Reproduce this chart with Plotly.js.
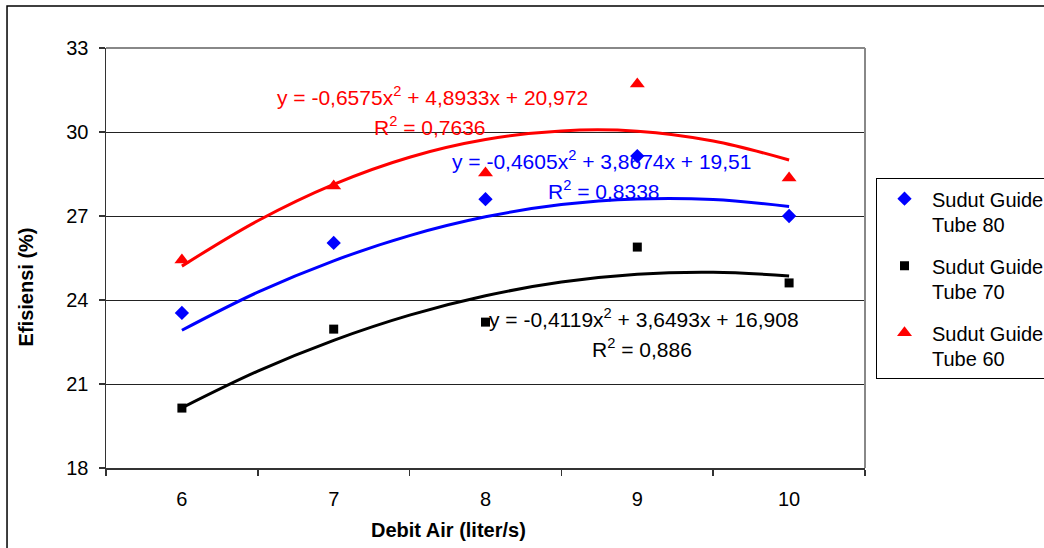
<!DOCTYPE html>
<html><head><meta charset="utf-8">
<script src="https://cdn.plot.ly/plotly-3.0.1.min.js"></script>
<style>html,body{margin:0;padding:0;background:#fff}#chart{width:1044px;height:548px}</style>
</head><body><div id="chart"></div>
<script>
// Measured points
const debitAir = [6, 7, 8, 9, 10];
const tube80 = [23.54, 26.04, 27.6, 29.14, 27.0];
const tube70 = [20.14, 22.96, 23.21, 25.89, 24.61];
const tube60 = [25.43, 28.07, 28.54, 31.71, 28.36];

// Trendline values at half steps
const trendX = [6, 6.5, 7, 7.5, 8, 8.5, 9, 9.5, 10];
const trend80 = [22.92, 24.28, 25.40, 26.30, 26.97, 27.41, 27.61, 27.59, 27.34];
const trend70 = [20.15, 21.46, 22.56, 23.46, 24.15, 24.64, 24.92, 24.99, 24.86];
const trend60 = [25.21, 26.83, 28.13, 29.10, 29.73, 30.04, 30.03, 29.68, 29.00];

const legendNames = ['Sudut Guide<br>Tube 80', 'Sudut Guide<br>Tube 70', 'Sudut Guide<br>Tube 60'];
const eqText = [
  'y = -0,4605x<sup>2</sup> + 3,8674x + 19,51', 'R<sup>2</sup> = 0,8338',
  'y = -0,4119x<sup>2</sup> + 3,6493x + 16,908', 'R<sup>2</sup> = 0,886',
  'y = -0,6575x<sup>2</sup> + 4,8933x + 20,972', 'R<sup>2</sup> = 0,7636'
];
const yTicks = [18, 21, 24, 27, 30, 33];

const F = 'Arial, "Liberation Sans", sans-serif';
const trend = (y, c) => ({x: trendX, y: y, mode: 'lines', line: {color: c, width: 3, shape: 'spline'}, showlegend: false, hoverinfo: 'skip'});
const data = [
  trend(trend80, '#0000FF'), trend(trend70, '#000000'), trend(trend60, '#FF0000'),
  {x: debitAir, y: tube80, mode: 'markers', name: legendNames[0], legendgroup: 'a', marker: {symbol: 'diamond', color: '#0000FF', size: 11}},
  {x: debitAir, y: tube70, mode: 'markers', name: legendNames[1], legendgroup: 'b', marker: {symbol: 'square', color: '#000000', size: 9}},
  {x: debitAir, y: tube60, mode: 'markers', name: legendNames[2], legendgroup: 'c', marker: {symbol: 'triangle-up', color: '#FF0000', size: 13}}
];
const ann = (t, x, y, c) => ({text: t, x: x, y: y, xref: 'x', yref: 'y', xanchor: 'center', yanchor: 'middle', showarrow: false, font: {family: F, size: 21, color: c}});
const layout = {
  width: 1044, height: 548,
  margin: {l: 106, r: 179, t: 48, b: 80, autoexpand: false},
  paper_bgcolor: '#fff', plot_bgcolor: '#fff',
  font: {family: F, size: 20, color: '#000'},
  xaxis: {range: [5.5, 10.5], tickvals: debitAir, ticks: '', showgrid: false, zeroline: false,
    showline: true, linecolor: '#333', linewidth: 1.5, mirror: false, ticklabelstandoff: 12,
    tickfont: {family: F, size: 20, color: '#000'},
    minor: {tick0: 5.5, dtick: 1, ticks: 'outside', ticklen: 6, tickcolor: '#333', tickwidth: 1.5, showgrid: false}},
  yaxis: {range: [18, 33], tickvals: yTicks, ticks: 'outside', ticklen: 6, tickcolor: '#333', tickwidth: 1.5,
    showgrid: true, gridcolor: '#222', gridwidth: 1, zeroline: false, ticklabelstandoff: 6,
    showline: true, linecolor: '#333', linewidth: 1.5,
    tickfont: {family: F, size: 20, color: '#000'}},
  showlegend: true,
  legend: {x: 1.0145, y: 0.69, xanchor: 'left', yanchor: 'top', bordercolor: '#000', borderwidth: 1,
    font: {family: F, size: 20, color: '#000'}, tracegroupgap: 12, traceorder: 'grouped', valign: 'top',
    itemwidth: 45, bgcolor: '#fff'},
  shapes: [
    {type: 'line', xref: 'paper', yref: 'paper', x0: 0, x1: 1, y0: 1, y1: 1, line: {color: '#888', width: 2}},
    {type: 'line', xref: 'paper', yref: 'paper', x0: 1, x1: 1, y0: 0, y1: 1, line: {color: '#888', width: 2}},
    {type: 'rect', xref: 'paper', yref: 'paper', x0: -0.1304, x1: 1.3, y0: -0.25, y1: 1.1, line: {color: '#000', width: 1.5}, layer: 'below'}
  ],
  annotations: [
    ann(eqText[0], 8.767, 29.0, '#0000FF'), ann(eqText[1], 8.78, 27.93, '#0000FF'),
    ann(eqText[2], 9.044, 23.36, '#000000'), ann(eqText[3], 9.03, 22.29, '#000000'),
    ann(eqText[4], 7.654, 31.29, '#FF0000'), ann(eqText[5], 7.634, 30.21, '#FF0000'),
    {text: '<b>Debit Air (liter/s)</b>', xref: 'paper', yref: 'paper', x: 0.451, y: -0.1476, xanchor: 'center', yanchor: 'middle', showarrow: false, font: {family: F, size: 20, color: '#000'}},
    {text: '<b>Efisiensi (%)</b>', xref: 'paper', yref: 'paper', x: -0.1054, y: 0.43, xanchor: 'center', yanchor: 'middle', textangle: -90, showarrow: false, font: {family: F, size: 20, color: '#000'}}
  ]
};
Plotly.newPlot('chart', data, layout, {displayModeBar: false, staticPlot: true});
</script></body></html>
